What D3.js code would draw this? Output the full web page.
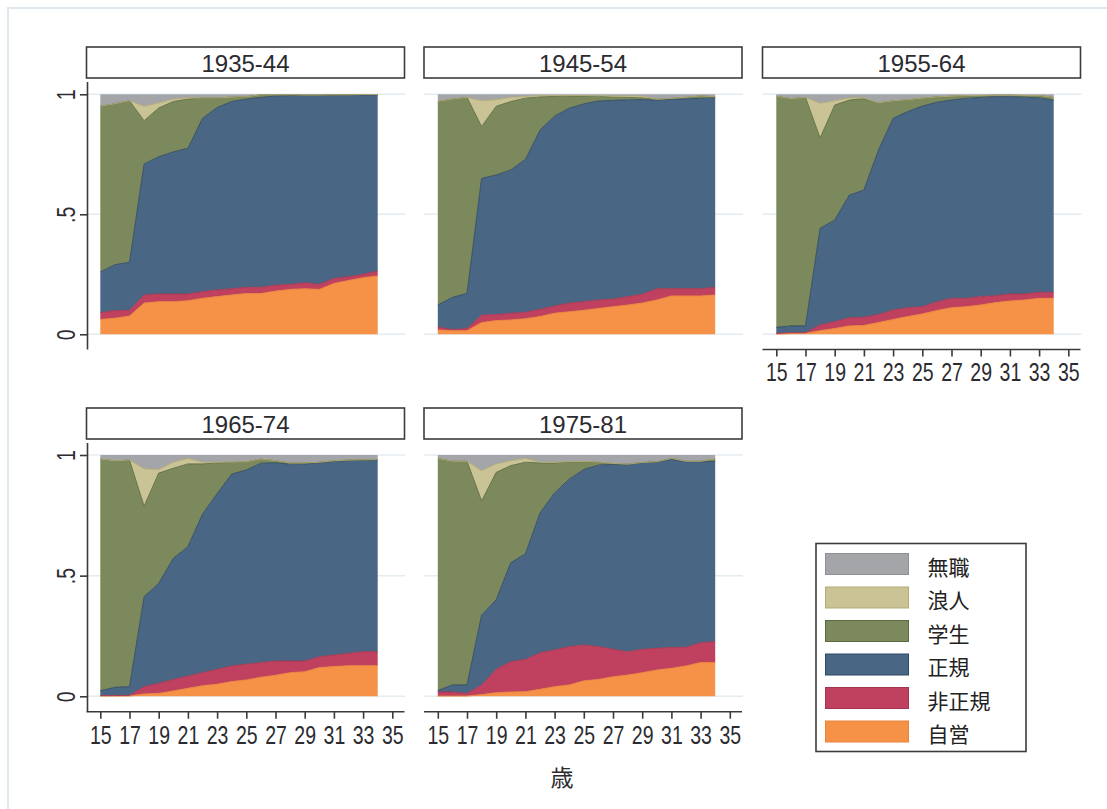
<!DOCTYPE html>
<html>
<head>
<meta charset="utf-8">
<script src="https://cdn.jsdelivr.net/npm/d3@7"></script>
<style>
  html, body { margin: 0; padding: 0; background: #fff; }
  svg { display: block; }
</style>
</head>
<body>
<svg id="chart" width="1107" height="809"></svg>
<script>
// ---- data -------------------------------------------------------------
const ages = [15,16,17,18,19,20,21,22,23,24,25,26,27,28,29,30,31,32,33,34];
const xTicks = [15,17,19,21,23,25,27,29,31,33,35];
const yTicks = [0, 0.5, 1];
const yTickLabels = ["0", ".5", "1"];
const cohorts = ["1935-44", "1945-54", "1955-64", "1965-74", "1975-81"];

// stacking order, bottom to top
const statuses = ["自営", "非正規", "正規", "学生", "浪人", "無職"];

// shares by cohort (rows) and age (columns)
const jiei = [
  [.062,.067,.076,.130,.136,.136,.140,.150,.157,.164,.170,.170,.180,.187,.190,.187,.212,.224,.236,.243],
  [.018,.015,.015,.049,.057,.060,.065,.074,.088,.094,.100,.108,.115,.122,.130,.143,.160,.160,.160,.164],
  [.001,.003,.004,.015,.024,.035,.037,.049,.062,.074,.085,.099,.111,.115,.122,.132,.139,.143,.150,.150],
  [.001,.001,.001,.010,.012,.022,.033,.044,.050,.061,.068,.079,.087,.098,.102,.119,.123,.127,.127,.127],
  [.001,.001,.001,.007,.015,.018,.019,.029,.040,.047,.064,.070,.081,.088,.098,.109,.116,.126,.140,.140]
];
const hiseiki = [
  [.028,.032,.024,.034,.032,.032,.028,.028,.028,.026,.026,.026,.025,.021,.025,.021,.021,.016,.014,.021],
  [.012,.005,.009,.031,.025,.028,.027,.030,.030,.036,.036,.035,.032,.035,.037,.047,.030,.030,.030,.032],
  [.003,.004,.003,.024,.029,.034,.034,.034,.039,.037,.030,.037,.039,.035,.035,.029,.029,.025,.025,.025],
  [.002,.002,.003,.030,.042,.048,.051,.054,.062,.065,.065,.061,.059,.048,.044,.045,.048,.051,.058,.058],
  [.017,.017,.011,.040,.097,.126,.134,.152,.152,.159,.149,.136,.114,.097,.097,.090,.087,.077,.082,.087]
];
const seiki = [
  [.170,.191,.200,.546,.572,.592,.607,.722,.760,.780,.784,.791,.788,.787,.780,.787,.763,.756,.747,.734],
  [.092,.134,.146,.570,.582,.597,.637,.747,.792,.812,.824,.829,.828,.820,.811,.786,.789,.791,.793,.789],
  [.025,.028,.028,.403,.423,.511,.530,.685,.799,.817,.836,.831,.826,.833,.830,.829,.822,.820,.810,.801],
  [.020,.034,.036,.373,.414,.502,.536,.657,.728,.795,.805,.826,.822,.816,.817,.803,.802,.799,.794,.795],
  [.006,.029,.035,.290,.288,.410,.437,.579,.651,.694,.727,.752,.766,.775,.773,.772,.779,.769,.750,.747]
];
const gakusei = [
  [.690,.671,.673,.180,.203,.210,.205,.085,.040,.018,.010,.011,.005,.003,.002,.002,.002,.002,.002,.001],
  [.848,.826,.817,.216,.286,.285,.255,.138,.081,.051,.033,.020,.013,.010,.007,.003,.004,.006,.010,.005],
  [.963,.947,.952,.376,.479,.396,.381,.196,.073,.049,.033,.022,.016,.012,.008,.006,.006,.007,.010,.011],
  [.960,.939,.939,.375,.457,.373,.343,.208,.127,.049,.034,.017,.008,.005,.004,.003,.003,.002,.001,.001],
  [.962,.927,.927,.473,.528,.402,.380,.207,.124,.072,.032,.012,.003,.002,.001,.001,.004,.002,.002,.009]
];
const ronin = [
  [0,0,0,.060,.021,.010,.005,0,0,0,0,0,0,0,0,0,0,0,0,0],
  [0,0,0,.107,.027,.017,.007,.006,.004,.002,.002,.002,.005,.006,.007,0,0,.001,0,0],
  [0,0,0,.145,.018,.009,.003,0,0,0,0,0,0,0,0,0,0,0,0,0],
  [0,0,0,.155,.015,.025,.023,.007,.003,.001,0,0,0,0,0,0,0,0,0,0],
  [0,0,0,.125,.035,.020,.016,.003,.002,.001,.001,.001,.001,0,0,0,0,0,0,0]
];
const mushoku = [
  [.050,.039,.027,.050,.036,.020,.015,.015,.015,.012,.010,.002,.002,.002,.003,.003,.002,.002,.001,.001],
  [.030,.020,.013,.027,.023,.013,.009,.005,.005,.005,.005,.006,.007,.007,.008,.021,.017,.012,.007,.010],
  [.008,.018,.013,.037,.027,.015,.015,.036,.027,.023,.016,.011,.008,.005,.005,.004,.004,.005,.005,.013],
  [.017,.024,.021,.057,.060,.030,.014,.030,.030,.029,.028,.017,.024,.033,.033,.030,.024,.021,.020,.019],
  [.014,.026,.026,.065,.037,.024,.014,.030,.031,.027,.027,.029,.035,.038,.031,.028,.014,.026,.026,.017]
];

// ---- styles -----------------------------------------------------------
const fills = {
  "自営": "#f59248", "非正規": "#c0415f", "正規": "#496785",
  "学生": "#7b895d", "浪人": "#c9c395", "無職": "#a4a5a9"
};
const edges = {
  "自営": "#e9843a", "非正規": "#a5344f", "正規": "#2f4862",
  "学生": "#5c6a3f", "浪人": "#b3ab74", "無職": "#909195"
};
const numFont = "'Liberation Sans', Arial, sans-serif";
const cjkFont = "'Noto Sans CJK JP', 'Noto Sans CJK SC', sans-serif";
const axisColor = "#3a3a3a";
const gridColor = "#e4ecf0";
const textColor = "#2b2b30";

// ---- table per cohort -------------------------------------------------
const seriesByStatus = { "自営": jiei, "非正規": hiseiki, "正規": seiki, "学生": gakusei, "浪人": ronin, "無職": mushoku };
const tables = cohorts.map((c, ci) => ages.map((a, ai) => {
  const row = { age: a };
  statuses.forEach(s => { row[s] = seriesByStatus[s][ci][ai]; });
  return row;
}));
const stack = d3.stack().keys(statuses);

// ---- layout -----------------------------------------------------------
const svg = d3.select("#chart");

// outer frame of the graph
svg.append("rect")
  .attr("x", 8).attr("y", 8).attr("width", 1110).attr("height", 820)
  .attr("fill", "none").attr("stroke", "#dfe8ec").attr("stroke-width", 2);

const colLeft = [86.5, 424, 762.5];
const panelW = 318;
const rows = [
  { headTop: 47, top: 94.3, bottom: 334.3, axisY: 349.5 },
  { headTop: 408, top: 455, bottom: 696.3, axisY: 711.7 }
];

cohorts.forEach((cohort, i) => {
  const r = Math.floor(i / 3), c = i % 3;
  const L = colLeft[c], R = L + panelW;
  const rowG = rows[r];
  const g = svg.append("g");

  const x = d3.scaleLinear().domain([15, 35]).range([L + 13.8, L + 13.8 + 292]);
  const y = d3.scaleLinear().domain([0, 1]).range([rowG.bottom, rowG.top]);

  // header strip
  g.append("rect")
    .attr("x", L).attr("y", rowG.headTop).attr("width", panelW).attr("height", 31)
    .attr("fill", "#fff").attr("stroke", "#3c3c3c").attr("stroke-width", 1.6);
  g.append("text")
    .attr("x", L + panelW / 2).attr("y", rowG.headTop + 24.5)
    .attr("text-anchor", "middle")
    .attr("font-family", numFont).attr("font-size", 24)
    .attr("fill", textColor)
    .text(cohort);

  // gridlines
  g.selectAll("line.grid").data(yTicks).join("line")
    .attr("class", "grid")
    .attr("x1", L).attr("x2", R + 1)
    .attr("y1", d => y(d)).attr("y2", d => y(d))
    .attr("stroke", gridColor).attr("stroke-width", 1.5);

  // stacked areas
  const layers = stack(tables[i]);
  const area = d3.area()
    .x(d => x(d.data.age))
    .y0(d => y(d[0]))
    .y1(d => y(d[1]));
  const topLine = d3.line()
    .x(d => x(d.data.age))
    .y(d => y(d[1]));

  g.selectAll("path.layer").data(layers).join("path")
    .attr("class", "layer")
    .attr("d", area)
    .attr("fill", d => fills[d.key]);
  g.selectAll("path.edge").data(layers.slice(0, 5)).join("path")
    .attr("class", "edge")
    .attr("d", topLine)
    .attr("fill", "none")
    .attr("stroke", d => edges[d.key])
    .attr("stroke-width", 0.9);

  // y axis on the first column
  if (c === 0) {
    const yAxis = d3.axisLeft(y).tickValues(yTicks).tickSize(7.5)
      .tickFormat((d, k) => yTickLabels[k]);
    const ga = g.append("g").attr("transform", `translate(${L + 1},0)`).call(yAxis);
    ga.select(".domain").remove();
    ga.append("line")
      .attr("x1", 0).attr("x2", 0)
      .attr("y1", rowG.headTop + 35).attr("y2", rowG.axisY)
      .attr("stroke", axisColor).attr("stroke-width", 1.6);
    ga.selectAll(".tick line").attr("stroke", axisColor).attr("stroke-width", 1.6);
    ga.selectAll(".tick text")
      .attr("font-family", numFont).attr("font-size", 25).attr("fill", textColor)
      .attr("x", null).attr("dy", null)
      .attr("transform", "translate(-21,0) rotate(-90) scale(0.78,1)")
      .attr("text-anchor", "middle")
      .attr("dominant-baseline", "central");
  }

  // x axis where nothing sits below
  if (i >= 2) {
    const xAxis = d3.axisBottom(x).tickValues(xTicks).tickSize(7).tickFormat(d3.format("d"));
    const gx = g.append("g").attr("transform", `translate(0,${rowG.axisY})`).call(xAxis);
    gx.select(".domain").remove();
    gx.append("line")
      .attr("x1", L).attr("x2", R)
      .attr("stroke", axisColor).attr("stroke-width", 1.6);
    gx.selectAll(".tick line").attr("stroke", axisColor).attr("stroke-width", 1.6);
    gx.selectAll(".tick text")
      .attr("font-family", numFont).attr("font-size", 25).attr("fill", textColor)
      .attr("dy", null).attr("y", 32)
      .attr("transform", "scale(0.78,1)");
  }
});

// axis title
svg.append("text")
  .attr("x", 562).attr("y", 776)
  .attr("text-anchor", "middle").attr("dominant-baseline", "central")
  .attr("font-family", cjkFont).attr("font-size", 23).attr("fill", textColor)
  .text("歳");

// legend
const legend = svg.append("g");
legend.append("rect")
  .attr("x", 816).attr("y", 543.5).attr("width", 210).attr("height", 208)
  .attr("fill", "#fff").attr("stroke", "#3c3c3c").attr("stroke-width", 1.6);
const legendOrder = statuses.slice().reverse();
const li = legend.selectAll("g.item").data(legendOrder).join("g")
  .attr("class", "item")
  .attr("transform", (d, k) => `translate(0,${553.5 + k * 33.5})`);
li.append("rect")
  .attr("x", 825.5).attr("y", 0).attr("width", 83).attr("height", 21)
  .attr("fill", d => fills[d]).attr("stroke", d => edges[d]).attr("stroke-width", 1);
li.append("text")
  .attr("x", 927.5).attr("y", 12)
  .attr("dominant-baseline", "central")
  .attr("font-family", cjkFont).attr("font-size", 21).attr("fill", "#222")
  .text(d => d);
</script>
</body>
</html>
